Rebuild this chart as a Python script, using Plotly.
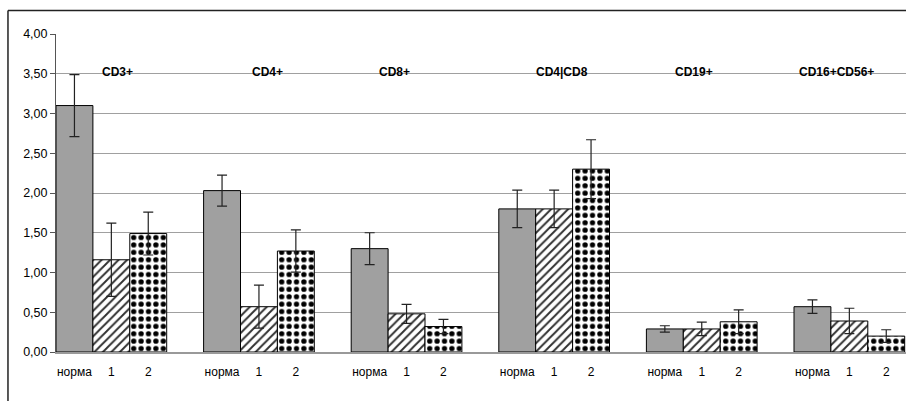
import plotly.graph_objects as go

# Immune cell subsets, three groups each: norm, group 1, group 2
markers = ["CD3+", "CD4+", "CD8+", "CD4|CD8", "CD19+", "CD16+CD56+"]
series_names = ["норма", "1", "2"]

norm_vals = [3.10, 2.03, 1.30, 1.80, 0.29, 0.57]
norm_err = [0.39, 0.195, 0.20, 0.235, 0.04, 0.085]

g1_vals = [1.16, 0.57, 0.48, 1.80, 0.29, 0.39]
g1_err = [0.46, 0.27, 0.12, 0.235, 0.085, 0.16]

g2_vals = [1.49, 1.27, 0.32, 2.30, 0.38, 0.20]
g2_err = [0.27, 0.265, 0.09, 0.37, 0.15, 0.08]

y_ticks = [0, 0.5, 1.0, 1.5, 2.0, 2.5, 3.0, 3.5, 4.0]

# layout constants
BAR_W = 0.25
TITLE_SHIFT = [0.42, 0.43, 0.29, 0.43, 0.32, 0.285]
FONT = "Liberation Sans, Arial, sans-serif"

styles = [
    dict(color="#a0a0a0", pattern=None),
    dict(color="white", pattern=dict(shape="/", fgcolor="#303030", bgcolor="white",
                                     fgopacity=1, size=6, solidity=0.32,
                                     fillmode="overlay")),
    dict(color="white", pattern=dict(shape=".", fgcolor="black", bgcolor="white",
                                     fgopacity=1, size=7.4, solidity=0.4,
                                     fillmode="overlay")),
]

vals = [norm_vals, g1_vals, g2_vals]
errs = [norm_err, g1_err, g2_err]
xs = list(range(len(markers)))

fig = go.Figure()
for s, name in enumerate(series_names):
    marker = dict(color=styles[s]["color"], line=dict(color="black", width=1))
    if styles[s]["pattern"]:
        marker["pattern"] = styles[s]["pattern"]
    fig.add_trace(go.Bar(
        x=xs, y=vals[s], name=name,
        offset=s * BAR_W, width=BAR_W,
        marker=marker,
        error_y=dict(type="data", array=errs[s], visible=True,
                     color="#222222", thickness=1.2, width=5),
        showlegend=False,
    ))

tickvals, ticktext = [], []
for g in xs:
    for s, name in enumerate(series_names):
        tickvals.append(g + (s + 0.5) * BAR_W)
        ticktext.append(name)

for g, label in enumerate(markers):
    fig.add_annotation(x=g + TITLE_SHIFT[g], y=3.52, text=f"<b>{label}</b>",
                       showarrow=False, yanchor="middle", xanchor="center",
                       font=dict(family=FONT, size=12, color="black"))

# frame around the chart: top and left edges (the rest runs off the page)
frame = dict(color="#222222", width=1.5)
fig.add_shape(type="line", xref="paper", yref="paper",
              x0=-0.0565, x1=1.05, y0=1.074, y1=1.074, line=frame)
fig.add_shape(type="line", xref="paper", yref="paper",
              x0=-0.0565, x1=-0.0565, y0=1.074, y1=-0.3, line=frame)

plot_w = 906 - 56
fig.update_layout(
    width=906, height=401,
    margin=dict(l=56, r=0, t=34, b=49),
    paper_bgcolor="white", plot_bgcolor="white",
    barmode="overlay",
    font=dict(family=FONT, size=12, color="black"),
    xaxis=dict(range=[0, plot_w / 147.6], tickvals=tickvals, ticktext=ticktext,
               showgrid=False, zeroline=False, showline=True, linecolor="#999999",
               linewidth=1.5, ticks="", ticklabelstandoff=8,
               tickfont=dict(family=FONT, size=12, color="black")),
    yaxis=dict(range=[0, 4], tickvals=y_ticks,
               ticktext=[f"{v:.2f}".replace(".", ",") for v in y_ticks],
               showgrid=True, gridcolor="#a0a0a0", gridwidth=1,
               zeroline=False, showline=True, linecolor="#555555", linewidth=1,
               ticks="outside", ticklen=5, tickcolor="#555555",
               tickfont=dict(family=FONT, size=12.5, color="black")),
)

fig.write_html("out.html")
